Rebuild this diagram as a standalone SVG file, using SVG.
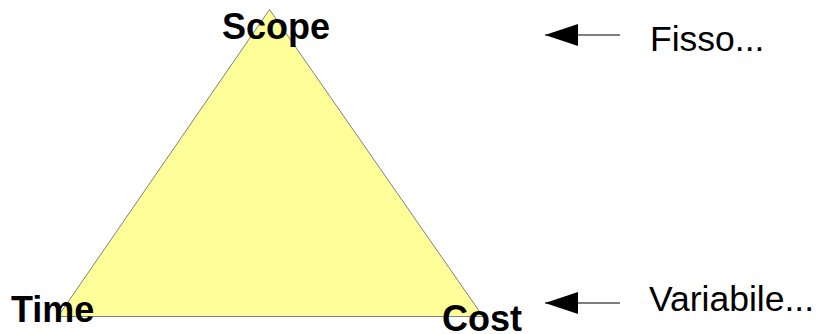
<svg xmlns="http://www.w3.org/2000/svg" width="827" height="334" viewBox="0 0 827 334">
<style>
.lbl{font-family:"Liberation Sans",Arial,sans-serif;font-weight:bold;font-size:36px;fill:#000}
.note{font-family:"Liberation Sans",Arial,sans-serif;font-size:35.5px;fill:#000}
.arr{stroke:#000;stroke-width:1.2;fill:none}
</style>
<defs>
<marker id="ah" markerWidth="34" markerHeight="22" refX="0" refY="11" orient="auto" markerUnits="userSpaceOnUse">
<path d="M0,11 L33,0 L33,22 Z" fill="#000"/>
</marker>
</defs>
<rect width="827" height="334" fill="#fff"/>
<g id="triangle">
<polygon points="269.5,9.5 58,316.5 483,316.5" fill="#ffff99" stroke="#808080" stroke-width="1"/>
</g>
<g id="scope"><text class="lbl" x="222" y="39">Scope</text></g>
<g id="time"><text class="lbl" x="11" y="322">Time</text></g>
<g id="cost"><text class="lbl" x="442" y="331">Cost</text></g>
<g id="fisso"><text class="note" x="650" y="51">Fisso...</text></g>
<g id="variabile"><text class="note" x="649" y="311">Variabile...</text></g>
<g id="connectors">
<line class="arr" x1="545" y1="35" x2="620" y2="35" marker-start="url(#ah)"/>
<line class="arr" x1="545" y1="303" x2="620" y2="303" marker-start="url(#ah)"/>
</g>
</svg>
